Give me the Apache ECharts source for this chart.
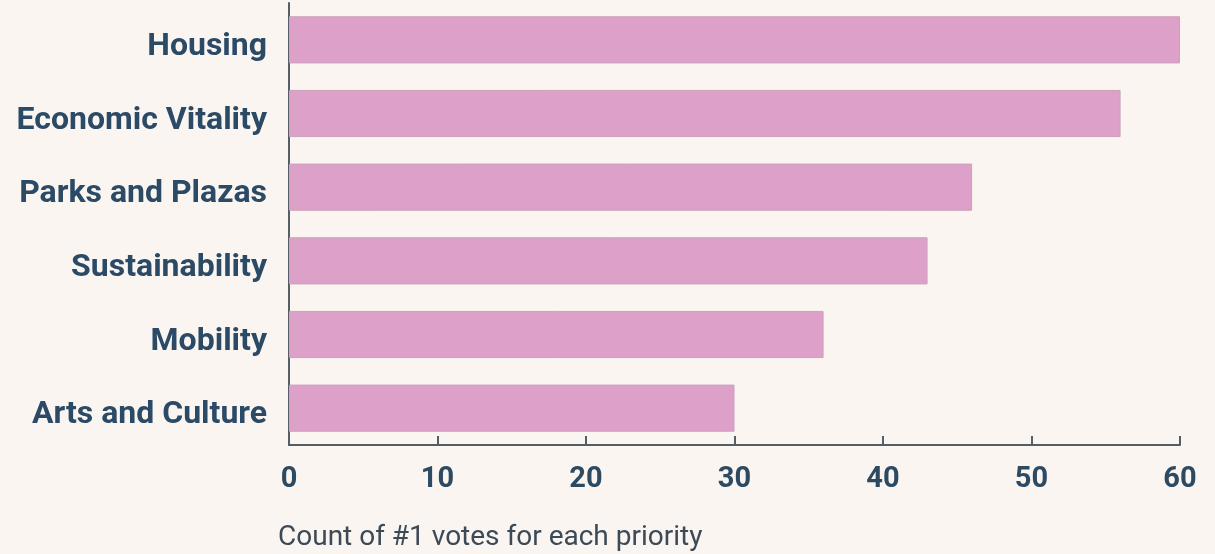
<!DOCTYPE html>
<html>
<head>
<meta charset="utf-8">
<script src="https://cdn.jsdelivr.net/npm/echarts@6/dist/echarts.min.js"></script>
<style>
html,body{margin:0;padding:0;background:#faf5f1;}
#c{width:1215px;height:554px;}
</style>
</head>
<body>
<div id="c"></div>
<script>
const categories = ["Housing", "Economic Vitality", "Parks and Plazas", "Sustainability", "Mobility", "Arts and Culture"];
const votes = [60, 56, 46, 43, 36, 30];
const axisTitle = "Count of #1 votes for each priority";

const chart = echarts.init(document.getElementById('c'));
chart.setOption({
  backgroundColor: '#faf5f1',
  animation: false,
  title: {
    text: axisTitle,
    left: 273,
    top: 519,
    textStyle: {fontFamily: 'Roboto', fontWeight: 'normal', fontSize: 28, color: '#3b4a56'}
  },
  grid: {left: 289, right: 35, top: 3, bottom: 109, containLabel: false},
  xAxis: {
    type: 'value', min: 0, max: 60, interval: 10,
    axisLine: {show: true, lineStyle: {color: '#555d66', width: 2}},
    axisTick: {show: true, inside: true, length: 9, lineStyle: {color: '#555d66', width: 2}},
    splitLine: {show: false},
    axisLabel: {fontFamily: 'Roboto', fontWeight: 'bold', fontSize: 29, color: '#2d4a63', margin: 20}
  },
  yAxis: {
    type: 'category', data: categories, inverse: true,
    axisLine: {show: true, lineStyle: {color: '#555d66', width: 2}},
    axisTick: {show: false},
    axisLabel: {fontFamily: 'Roboto', fontWeight: 'bold', fontSize: 32, color: '#2b4a66', margin: 22, verticalAlign: 'top', lineHeight: 14}
  },
  series: [{
    type: 'bar', data: votes, barWidth: '64%',
    itemStyle: {color: '#dda0c8', borderColor: '#c9a3b9', borderWidth: 1}
  }]
});
</script>
</body>
</html>
